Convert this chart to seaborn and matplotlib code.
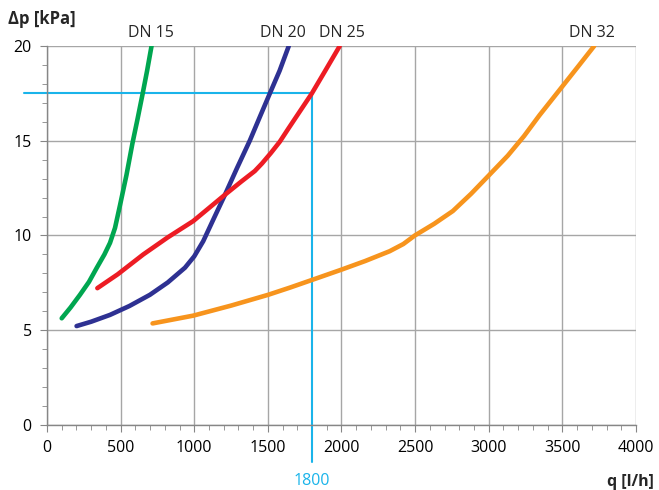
import numpy as np
import pandas as pd
import matplotlib
matplotlib.use("Agg")
import matplotlib.pyplot as plt
from matplotlib.ticker import MultipleLocator
import seaborn as sns

# curve values (q in l/h, dp in kPa)
dn15_q = [100, 160, 224, 285, 337, 390, 428, 462, 496, 540, 580, 615, 650, 680, 710]
dn15_dp = [5.63, 6.2, 6.87, 7.55, 8.28, 9.0, 9.61, 10.4, 11.6, 13.2, 14.85, 16.15, 17.5, 18.7, 20.0]

dn20_q = [201, 300, 428, 560, 699, 820, 937, 1000, 1061, 1130, 1208, 1290, 1377, 1445, 1513, 1580, 1642]
dn20_dp = [5.22, 5.45, 5.81, 6.28, 6.87, 7.52, 8.3, 8.9, 9.7, 10.85, 12.14, 13.55, 15.0, 16.25, 17.49, 18.7, 20.0]

dn25_q = [342, 480, 654, 820, 993, 1100, 1210, 1320, 1411, 1460, 1520, 1581, 1640, 1700, 1798, 1890, 1988]
dn25_dp = [7.22, 7.95, 9.0, 9.9, 10.76, 11.45, 12.16, 12.85, 13.4, 13.8, 14.35, 14.95, 15.65, 16.35, 17.49, 18.7, 20.0]

dn32_q = [717, 993, 1250, 1502, 1650, 1798, 1997, 2160, 2327, 2420, 2498, 2630, 2756, 2880, 2998, 3129, 3240, 3344, 3497, 3610, 3716]
dn32_dp = [5.36, 5.77, 6.3, 6.87, 7.25, 7.65, 8.19, 8.65, 9.17, 9.55, 10.0, 10.62, 11.29, 12.2, 13.15, 14.21, 15.25, 16.34, 17.84, 18.95, 20.0]

series_names = ["DN 15", "DN 20", "DN 25", "DN 32"]
series_colors = ["#00A650", "#2E3192", "#ED1C24", "#F7941D"]
label_x = [708, 1603, 2003, 3701]

op_q = 1800
op_dp = 17.5

frames = []
for name, q, dp in zip(series_names, [dn15_q, dn20_q, dn25_q, dn32_q],
                       [dn15_dp, dn20_dp, dn25_dp, dn32_dp]):
    frames.append(pd.DataFrame({"q": q, "dp": dp, "DN": name}))
df = pd.concat(frames, ignore_index=True)

sns.set_style("white")
plt.rcParams['font.family'] = ['Open Sans', 'DejaVu Sans']

fig = plt.figure(figsize=(6.59, 4.90), dpi=100)
ax = fig.add_axes([0.0713, 0.1327, 0.8938, 0.7734])

sns.lineplot(data=df, x="q", y="dp", hue="DN", palette=series_colors,
             sort=False, estimator=None, linewidth=3.3, legend=False, ax=ax,
             solid_capstyle="round", solid_joinstyle="round", zorder=3)

ax.set_xlim(0, 4000)
ax.set_ylim(0, 20)
ax.xaxis.set_major_locator(MultipleLocator(500))
ax.xaxis.set_minor_locator(MultipleLocator(100))
ax.yaxis.set_major_locator(MultipleLocator(5))
ax.yaxis.set_minor_locator(MultipleLocator(1))
ax.grid(True, which="major", color="#A6A6A6", linewidth=1)
ax.set_axisbelow(True)
for s in ["top", "right"]:
    ax.spines[s].set_visible(False)
for s in ["left", "bottom"]:
    ax.spines[s].set_color("#868686")
    ax.spines[s].set_linewidth(1)
ax.tick_params(which="major", direction="out", length=5, color="#868686",
               labelsize=11.5, pad=6, labelcolor="black")
ax.tick_params(which="minor", direction="out", length=3.5, color="#868686")
ax.tick_params(axis="x", which="both", bottom=True)
ax.tick_params(axis="y", which="both", left=True)
ax.set_xlabel("")
ax.set_ylabel("")

# operating point guide lines
cyan = "#1AB4EA"
ax.plot([-156, op_q], [op_dp, op_dp], color=cyan, linewidth=1.5, clip_on=False, zorder=2)
ax.plot([op_q, op_q], [op_dp, -1.95], color=cyan, linewidth=1.5, clip_on=False, zorder=2)
ax.text(op_q, -2.95, "1800", color=cyan, fontsize=11.5, ha="center", va="center")

for name, lx in zip(series_names, label_x):
    ax.text(lx, 20.69, name, fontsize=11.5, ha="center", va="center")

fig.text(0.012, 0.961, "Δp [kPa]", fontsize=12, fontweight="bold", ha="left", va="center")
fig.text(0.992, 0.016, "q [l/h]", fontsize=11.5, fontweight="bold", ha="right", va="center")

fig.savefig("out.png", dpi=100)
